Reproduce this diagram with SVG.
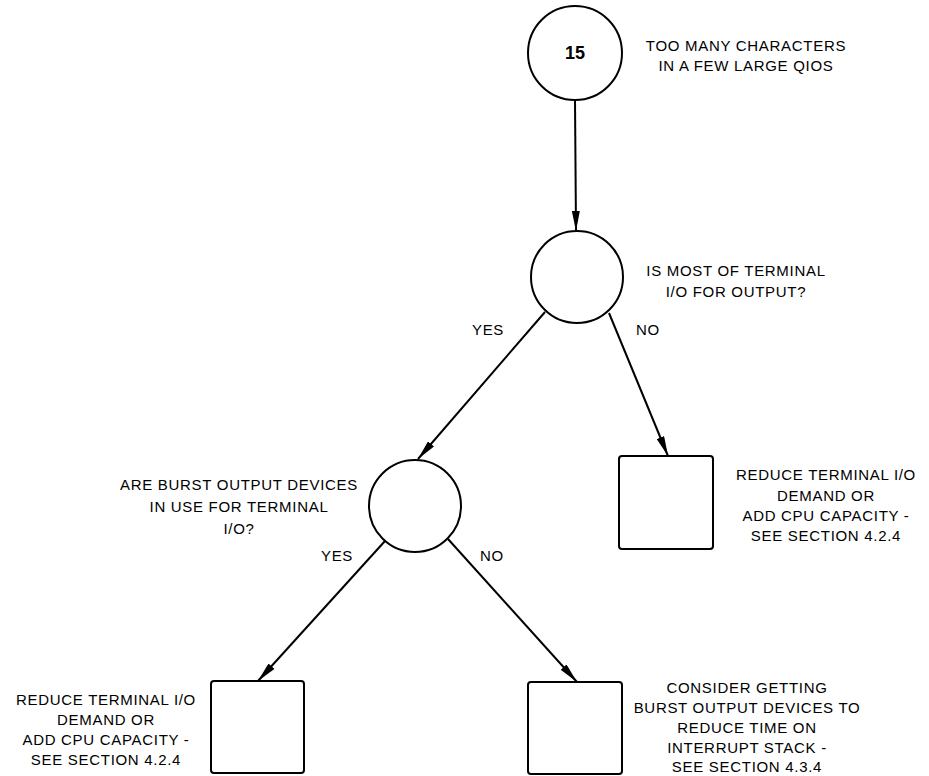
<svg xmlns="http://www.w3.org/2000/svg" width="929" height="776" viewBox="0 0 929 776">
<style>
.node{fill:#fff;stroke:#000;stroke-width:2}
.t{font-family:"Liberation Sans",Arial,sans-serif;font-size:15px;letter-spacing:0.7px;fill:#000;text-anchor:middle}
.b{font-weight:bold;font-size:18px;letter-spacing:0}
.c{stroke:#000;stroke-width:2;fill:none}
</style>
<defs>
<marker id="ah" viewBox="0 0 20 8" refX="20" refY="4" markerWidth="20" markerHeight="8" markerUnits="userSpaceOnUse" orient="auto">
<path d="M0,0 L20,4 L0,8 Z" fill="#000"/>
</marker>
</defs>
<rect width="929" height="776" fill="#fff"/>
<g id="connectors">
<line class="c" x1="575" y1="100" x2="576" y2="231" marker-end="url(#ah)"/>
<line class="c" x1="545" y1="312" x2="418" y2="459" marker-end="url(#ah)"/>
<line class="c" x1="609" y1="313" x2="668" y2="456" marker-end="url(#ah)"/>
<line class="c" x1="385" y1="541" x2="258" y2="681" marker-end="url(#ah)"/>
<line class="c" x1="448" y1="539" x2="577" y2="682" marker-end="url(#ah)"/>
<text class="t" x="488" y="335">YES</text>
<text class="t" x="648" y="335">NO</text>
<text class="t" x="337" y="561">YES</text>
<text class="t" x="492" y="561">NO</text>
</g>
<g id="n15">
<circle class="node" cx="575" cy="53" r="47"/>
<text class="t b" x="575" y="59">15</text>
<text class="t" x="746" y="51">TOO MANY CHARACTERS</text>
<text class="t" x="746" y="71">IN A FEW LARGE QIOS</text>
</g>
<g id="q1">
<circle class="node" cx="577" cy="277" r="46"/>
<text class="t" x="736" y="276">IS MOST OF TERMINAL</text>
<text class="t" x="736" y="297">I/O FOR OUTPUT?</text>
</g>
<g id="q2">
<circle class="node" cx="415" cy="506" r="46"/>
<text class="t" x="239" y="490">ARE BURST OUTPUT DEVICES</text>
<text class="t" x="239" y="512">IN USE FOR TERMINAL</text>
<text class="t" x="239" y="534">I/O?</text>
</g>
<g id="a1">
<rect class="node" x="619" y="456" width="94" height="93" rx="3"/>
<text class="t" x="826" y="480">REDUCE TERMINAL I/O</text>
<text class="t" x="826" y="501">DEMAND OR</text>
<text class="t" x="826" y="521">ADD CPU CAPACITY -</text>
<text class="t" x="826" y="541">SEE SECTION 4.2.4</text>
</g>
<g id="a2">
<rect class="node" x="211" y="681" width="93" height="92" rx="3"/>
<text class="t" x="106" y="705">REDUCE TERMINAL I/O</text>
<text class="t" x="106" y="725">DEMAND OR</text>
<text class="t" x="106" y="745">ADD CPU CAPACITY -</text>
<text class="t" x="106" y="765">SEE SECTION 4.2.4</text>
</g>
<g id="a3">
<rect class="node" x="528" y="682" width="94" height="92" rx="3"/>
<text class="t" x="747" y="693">CONSIDER GETTING</text>
<text class="t" x="747" y="713">BURST OUTPUT DEVICES TO</text>
<text class="t" x="747" y="733">REDUCE TIME ON</text>
<text class="t" x="747" y="753">INTERRUPT STACK -</text>
<text class="t" x="747" y="772">SEE SECTION 4.3.4</text>
</g>
</svg>
